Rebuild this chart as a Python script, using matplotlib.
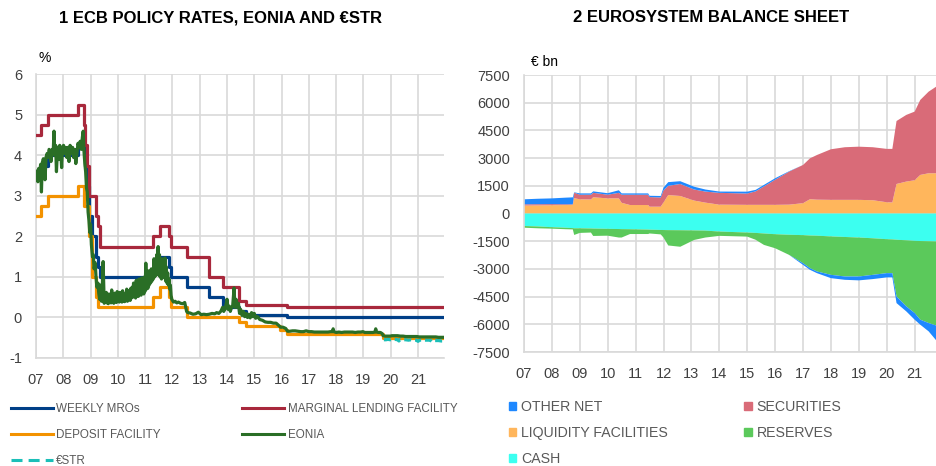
import matplotlib
matplotlib.use("Agg")
import matplotlib.pyplot as plt
from matplotlib.lines import Line2D
from matplotlib.patches import Patch

plt.rcParams['font.family'] = ['Liberation Sans', 'DejaVu Sans']
plt.rcParams['axes.unicode_minus'] = False

# ---- chart 1: policy rates (step series, decimal years) ----
mro_x = [2007.0, 2007.19, 2007.45, 2008.53, 2008.79, 2008.87, 2008.94, 2009.05, 2009.19,
         2009.27, 2009.36, 2011.28, 2011.53, 2011.86, 2011.95, 2012.53, 2013.35, 2013.87,
         2014.44, 2014.69, 2016.2, 2021.95]
mro_y = [3.5, 3.75, 4.0, 4.25, 3.75, 3.25, 2.5, 2.0, 1.5,
         1.25, 1.0, 1.25, 1.5, 1.25, 1.0, 0.75, 0.5, 0.25,
         0.15, 0.05, 0.0, 0.0]

mlf_x = [2007.0, 2007.19, 2007.45, 2008.53, 2008.77, 2008.79, 2008.87, 2008.94, 2009.19,
         2009.27, 2009.36, 2011.28, 2011.53, 2011.86, 2011.95, 2012.53, 2013.35, 2013.87,
         2014.44, 2014.69, 2016.2, 2021.95]
mlf_y = [4.5, 4.75, 5.0, 5.25, 4.75, 4.25, 3.75, 3.0, 2.5,
         2.25, 1.75, 2.0, 2.25, 2.0, 1.75, 1.5, 1.0, 0.75,
         0.4, 0.3, 0.25, 0.25]

df_x = [2007.0, 2007.19, 2007.45, 2008.53, 2008.77, 2008.94, 2009.05, 2009.19, 2009.27,
        2011.28, 2011.53, 2011.86, 2011.95, 2012.53, 2014.44, 2014.69, 2015.93, 2016.2,
        2019.71, 2021.95]
df_y = [2.5, 2.75, 3.0, 3.25, 2.75, 2.0, 1.0, 0.5, 0.25,
        0.5, 0.75, 0.5, 0.25, 0.0, -0.1, -0.2, -0.3, -0.4,
        -0.5, -0.5]

eonia_x = [2007.00, 2007.04, 2007.07, 2007.10, 2007.14, 2007.17, 2007.20, 2007.23, 2007.27, 2007.30,
           2007.33, 2007.37, 2007.41, 2007.45, 2007.48, 2007.52, 2007.55, 2007.59, 2007.63, 2007.66,
           2007.69, 2007.72, 2007.75, 2007.79, 2007.83, 2007.87, 2007.91, 2007.94, 2007.97, 2008.01,
           2008.05, 2008.09, 2008.13, 2008.17, 2008.21, 2008.25, 2008.30, 2008.34, 2008.38, 2008.42,
           2008.46, 2008.50, 2008.54, 2008.58, 2008.62, 2008.66, 2008.70, 2008.73, 2008.76, 2008.79,
           2008.82, 2008.85, 2008.88, 2008.91, 2008.94, 2008.97, 2009.00, 2009.03, 2009.07, 2009.10,
           2009.13, 2009.17, 2009.20, 2009.23, 2009.27, 2009.30, 2009.33, 2009.36, 2009.40, 2009.43,
           2009.46,
           2009.500, 2009.525, 2009.550, 2009.575, 2009.600, 2009.625, 2009.650, 2009.675, 2009.700, 2009.725,
           2009.750, 2009.775, 2009.800, 2009.825, 2009.850, 2009.875, 2009.900, 2009.925, 2009.950, 2009.975,
           2010.000, 2010.025, 2010.050, 2010.075, 2010.100, 2010.125, 2010.150, 2010.175, 2010.200, 2010.225,
           2010.250, 2010.275, 2010.300, 2010.325, 2010.350, 2010.375, 2010.400, 2010.425, 2010.450, 2010.475,
           2010.500, 2010.525, 2010.550, 2010.575, 2010.600, 2010.625, 2010.650, 2010.675, 2010.700, 2010.725,
           2010.750, 2010.775, 2010.800, 2010.825, 2010.850, 2010.875, 2010.900, 2010.925, 2010.950, 2010.975,
           2011.000, 2011.025, 2011.050, 2011.075, 2011.100, 2011.125, 2011.150, 2011.175, 2011.200, 2011.225,
           2011.250, 2011.275, 2011.300, 2011.325, 2011.350, 2011.375, 2011.400, 2011.425, 2011.450, 2011.475,
           2011.500, 2011.525, 2011.550, 2011.575, 2011.600, 2011.625, 2011.650, 2011.675, 2011.700, 2011.725,
           2011.750, 2011.775, 2011.800, 2011.825, 2011.850, 2011.875, 2011.900, 2011.925, 2011.950, 2011.975,
           2012.04, 2012.10, 2012.16,
           2012.22, 2012.30, 2012.38, 2012.45, 2012.52, 2012.56, 2012.65, 2012.75, 2012.85, 2012.95,
           2013.05, 2013.15, 2013.25, 2013.35, 2013.45, 2013.55, 2013.62, 2013.70, 2013.78, 2013.84,
           2013.88, 2013.92, 2013.96, 2014.00, 2014.04, 2014.08, 2014.12, 2014.17, 2014.21, 2014.26,
           2014.29, 2014.33, 2014.37, 2014.42, 2014.46, 2014.50, 2014.55, 2014.60, 2014.65, 2014.70,
           2014.75, 2014.80, 2014.85, 2014.90, 2014.95, 2015.00, 2015.05, 2015.12, 2015.20, 2015.30,
           2015.40, 2015.50, 2015.60, 2015.70, 2015.80, 2015.90, 2015.96, 2016.05, 2016.15, 2016.22,
           2016.30, 2016.40, 2016.50, 2016.60, 2016.70, 2016.80, 2016.90, 2017.00, 2017.10, 2017.20,
           2017.30, 2017.40, 2017.50, 2017.60, 2017.70, 2017.80, 2017.87, 2017.89, 2017.91, 2018.00,
           2018.10, 2018.20, 2018.30, 2018.40, 2018.50, 2018.60, 2018.70, 2018.80, 2018.90, 2018.98,
           2019.05, 2019.15, 2019.25, 2019.35, 2019.42, 2019.45, 2019.48, 2019.55, 2019.62, 2019.69,
           2019.72, 2019.80, 2019.90, 2019.98, 2020.05, 2020.15, 2020.25, 2020.35, 2020.45, 2020.55,
           2020.65, 2020.75, 2020.85, 2020.95, 2021.05, 2021.15, 2021.25, 2021.35, 2021.45, 2021.55,
           2021.65, 2021.75, 2021.85, 2021.95]
eonia_y = [3.55, 3.62, 3.35, 3.68, 3.58, 3.78, 3.10, 3.82, 3.92, 3.80,
           3.40, 3.96, 4.05, 3.95, 4.15, 4.10, 3.85, 4.15, 4.05, 4.60,
           4.00, 4.25, 3.60, 4.20, 3.90, 4.25, 4.10, 3.70, 4.15, 4.25,
           4.05, 4.20, 3.95, 4.20, 3.85, 4.25, 4.05, 4.20, 3.95, 4.15,
           3.80, 4.05, 4.30, 4.20, 4.35, 4.15, 4.45, 4.60, 4.10, 3.80,
           3.60, 3.20, 3.10, 2.60, 2.40, 2.10, 2.30, 1.80, 1.50, 1.55,
           1.20, 1.35, 1.00, 0.75, 0.85, 0.60, 0.45, 0.80, 0.40, 0.75,
           1.38,
           0.35, 0.55, 0.38, 0.62, 0.36, 0.48, 0.34, 0.58, 0.40, 0.52,
           0.36, 0.68, 0.38, 0.50, 0.35, 0.60, 0.42, 0.55, 0.37, 0.64,
           0.40, 0.56, 0.38, 0.62, 0.42, 0.52, 0.38, 0.66, 0.41, 0.58,
           0.39, 0.55, 0.43, 0.70, 0.40, 0.60, 0.45, 0.66, 0.42, 0.72,
           0.48, 0.75, 0.50, 0.85, 0.55, 0.70, 0.48, 0.92, 0.58, 0.80,
           0.52, 0.95, 0.60, 0.85, 0.55, 0.98, 0.62, 0.88, 0.58, 1.00,
           0.65, 1.34, 0.70, 1.05, 0.72, 1.15, 0.80, 1.00, 0.85, 1.20,
           0.90, 1.10, 0.95, 1.45, 1.00, 1.30, 1.05, 1.55, 1.20, 1.75,
           1.05, 1.55, 1.00, 1.40, 0.95, 1.45, 1.05, 1.30, 0.98, 1.47,
           0.90, 1.25, 0.85, 1.10, 0.80, 0.95, 0.70, 0.80, 0.55, 0.45,
           0.38, 0.40, 0.36,
           0.38, 0.35, 0.34, 0.37, 0.15, 0.12, 0.11, 0.08, 0.09, 0.13,
           0.07, 0.08, 0.07, 0.08, 0.10, 0.09, 0.12, 0.10, 0.16, 0.25,
           0.15, 0.20, 0.30, 0.45, 0.20, 0.28, 0.15, 0.25, 0.30, 0.73,
           0.25, 0.45, 0.25, 0.35, 0.10, 0.20, 0.05, 0.15, 0.02, 0.10,
           0.00, 0.08, -0.01, 0.12, 0.02, 0.10, -0.02, 0.02, -0.05, -0.07,
           -0.11, -0.12, -0.12, -0.14, -0.14, -0.20, -0.24, -0.24, -0.27, -0.34,
           -0.34, -0.33, -0.33, -0.34, -0.35, -0.35, -0.33, -0.35, -0.35, -0.36,
           -0.36, -0.36, -0.36, -0.36, -0.36, -0.35, -0.35, -0.28, -0.35, -0.37,
           -0.36, -0.37, -0.36, -0.36, -0.36, -0.36, -0.37, -0.36, -0.36, -0.35,
           -0.37, -0.37, -0.37, -0.37, -0.36, -0.28, -0.36, -0.37, -0.37, -0.40,
           -0.45, -0.46, -0.46, -0.46, -0.45, -0.45, -0.45, -0.46, -0.46, -0.47,
           -0.47, -0.47, -0.47, -0.47, -0.48, -0.48, -0.48, -0.48, -0.48, -0.48,
           -0.48, -0.49, -0.49, -0.49]

estr_x = [2019.75, 2019.82, 2019.90, 2019.98, 2020.05, 2020.15, 2020.25, 2020.30, 2020.35,
          2020.45, 2020.55, 2020.65, 2020.75, 2020.85, 2020.95, 2021.00, 2021.05, 2021.15,
          2021.25, 2021.35, 2021.45, 2021.50, 2021.55, 2021.65, 2021.75, 2021.85, 2021.95]
estr_y = [-0.55, -0.55, -0.54, -0.55, -0.54, -0.54, -0.55, -0.58, -0.54,
          -0.55, -0.55, -0.56, -0.55, -0.56, -0.56, -0.59, -0.56, -0.56,
          -0.56, -0.56, -0.56, -0.59, -0.57, -0.57, -0.57, -0.58, -0.58]

# ---- chart 2: Eurosystem balance sheet, EUR bn ----
bs_x = [2007.00, 2007.50, 2008.00, 2008.50, 2008.75, 2008.80, 2009.00, 2009.40, 2009.48, 2010.00,
        2010.40, 2010.50, 2010.80, 2011.45, 2011.50, 2011.90, 2012.00, 2012.17, 2012.60, 2013.10,
        2013.50, 2014.00, 2015.00, 2015.30, 2015.60, 2016.00, 2016.50, 2017.00, 2017.25, 2017.50,
        2018.00, 2018.50, 2019.00, 2019.50, 2020.00, 2020.20, 2020.35, 2020.70, 2021.00, 2021.20,
        2021.50, 2021.80]
liquidity = [430, 440, 450, 460, 470, 830, 770, 760, 880, 820,
             820, 580, 460, 460, 370, 370, 600, 1000, 950, 700,
             590, 480, 470, 470, 470, 470, 480, 560, 775, 750,
             740, 740, 740, 720, 610, 600, 1600, 1730, 1800, 2090,
             2180, 2180]
securities = [70, 65, 60, 40, 30, 300, 250, 260, 240, 200,
              300, 440, 560, 560, 520, 500, 650, 500, 650, 600,
              600, 640, 614, 730, 1000, 1360, 1790, 2070, 2215, 2420,
              2740, 2850, 2880, 2870, 2890, 2900, 3410, 3610, 3720, 4060,
              4420, 4720]
other_net_pos = [270, 295, 310, 360, 376, 20, 70, 70, 80, 80,
                 140, 70, 70, 70, 70, 80, 150, 200, 150, 150,
                 110, 70, 100, 80, 80, 80, 20, 0, 0, 0,
                 0, 0, 0, 0, 0, 0, 0, 0, 0, 0,
                 0, 0]
cash = [-676, -700, -740, -770, -790, -800, -800, -810, -815, -830,
        -840, -845, -850, -870, -875, -890, -895, -900, -905, -915,
        -925, -975, -1030, -1050, -1080, -1120, -1150, -1170, -1190, -1200,
        -1240, -1270, -1300, -1340, -1390, -1400, -1420, -1450, -1480, -1490,
        -1500, -1510]
reserves = [-92, -100, -80, -80, -70, -360, -250, -220, -400, -370,
            -460, -455, -260, -240, -205, -240, -405, -830, -895, -515,
            -375, -235, -220, -370, -620, -760, -1090, -1520, -1770, -1940,
            -2080, -2140, -2110, -1980, -1840, -1830, -3070, -3580, -3910, -4260,
            -4430, -4570]
other_net_neg = [0, 0, 0, 0, 0, 0, 0, 0, 0, 0,
                 0, 0, 0, 0, 0, 0, 0, 0, 0, 0,
                 0, 0, 0, 0, 0, 0, 0, -90, -90, -90,
                 -180, -180, -210, -230, -230, -230, -360, -270, -360, -270,
                 -450, -840]

years = list(range(2007, 2022))
year_labels = ["%02d" % (y % 100) for y in years]

c_mro, c_mlf, c_df, c_eonia, c_estr = "#003f87", "#a8283c", "#f39200", "#2a6e26", "#1bbfb8"
c_other, c_sec, c_liq, c_res, c_cash = "#1e88ff", "#d96b78", "#ffb65c", "#5bc95b", "#3cfff0"
grid_c = "#d9d9d9"
tick_c = "#404040"
leg_c = "#595959"

fig = plt.figure(figsize=(9.37, 4.66), dpi=100)
ax1 = fig.add_axes([0.0384, 0.2318, 0.4354, 0.6084])
ax2 = fig.add_axes([0.5592, 0.2446, 0.4408, 0.5944])

lw = 2.3
ax1.step(mro_x, mro_y, where="post", color=c_mro, lw=lw, zorder=3)
ax1.step(mlf_x, mlf_y, where="post", color=c_mlf, lw=lw, zorder=3)
ax1.step(df_x, df_y, where="post", color=c_df, lw=lw, zorder=3)
ax1.plot(estr_x, estr_y, color=c_estr, lw=lw, ls=(0, (2.2, 1.2)), zorder=3)
ax1.plot(eonia_x, eonia_y, color=c_eonia, lw=lw, zorder=4)
ax1.set_ylim(-1, 6)
ax1.set_yticks(range(-1, 7))
ax1.set_xlim(2007, 2021.95)
ax1.text(2007.1, 6.3, "%", fontsize=10, color="black")

ax2.stackplot(bs_x, liquidity, securities, other_net_pos,
              colors=[c_liq, c_sec, c_other], lw=0)
ax2.stackplot(bs_x, cash, reserves, other_net_neg,
              colors=[c_cash, c_res, c_other], lw=0)
ax2.set_ylim(-7500, 7500)
ax2.set_yticks(range(-7500, 7501, 1500))
ax2.set_xlim(2007, 2021.8)
ax2.text(2007.25, 8000, "€ bn", fontsize=10, color="black")

for ax in (ax1, ax2):
    ax.set_xticks(years)
    ax.set_xticklabels(year_labels)
    ax.grid(True, color=grid_c, lw=1.2)
    ax.set_axisbelow(True)
    ax.tick_params(length=0, labelsize=10.5, colors=tick_c)
    ax.tick_params(axis="x", pad=11)
    ax.tick_params(axis="y", pad=10)
    for s in ("top", "right"):
        ax.spines[s].set_visible(False)
    for s in ("left", "bottom"):
        ax.spines[s].set_color(grid_c)
        ax.spines[s].set_linewidth(1.2)

fig.text(0.235, 0.962, "1 ECB POLICY RATES, EONIA AND €STR", ha="center", va="center",
         fontsize=12, fontweight="bold")
fig.text(0.759, 0.962, "2 EUROSYSTEM BALANCE SHEET", ha="center", va="center",
         fontsize=12, fontweight="bold")

h1 = [Line2D([], [], color=c_mro, lw=2.2), Line2D([], [], color=c_df, lw=2.2),
      Line2D([], [], color=c_estr, lw=2.2, ls=(0, (3.6, 2.0))),
      Line2D([], [], color=c_mlf, lw=2.2), Line2D([], [], color=c_eonia, lw=2.2)]
l1 = ["WEEKLY MROs", "DEPOSIT FACILITY", "€STR", "MARGINAL LENDING FACILITY", "EONIA"]
leg1 = fig.legend(h1, l1, loc="upper left", bbox_to_anchor=(0.0064, 0.1459), ncol=2,
                  frameon=False, fontsize=8.4, handlelength=3.6, handletextpad=0.3,
                  columnspacing=7.0, labelspacing=1.22, borderaxespad=0)
for t in leg1.get_texts():
    t.set_color(leg_c)

h2 = [Patch(color=c_other), Patch(color=c_liq), Patch(color=c_cash),
      Patch(color=c_sec), Patch(color=c_res)]
l2 = ["OTHER NET", "LIQUIDITY FACILITIES", "CASH", "SECURITIES", "RESERVES"]
leg2 = fig.legend(h2, l2, loc="upper left", bbox_to_anchor=(0.5372, 0.1536), ncol=2,
                  frameon=False, fontsize=10.2, handlelength=0.5, handleheight=0.5,
                  handletextpad=0.35, columnspacing=5.4, labelspacing=0.84, borderaxespad=0)
for t in leg2.get_texts():
    t.set_color(leg_c)

fig.savefig("out.png", dpi=100)
